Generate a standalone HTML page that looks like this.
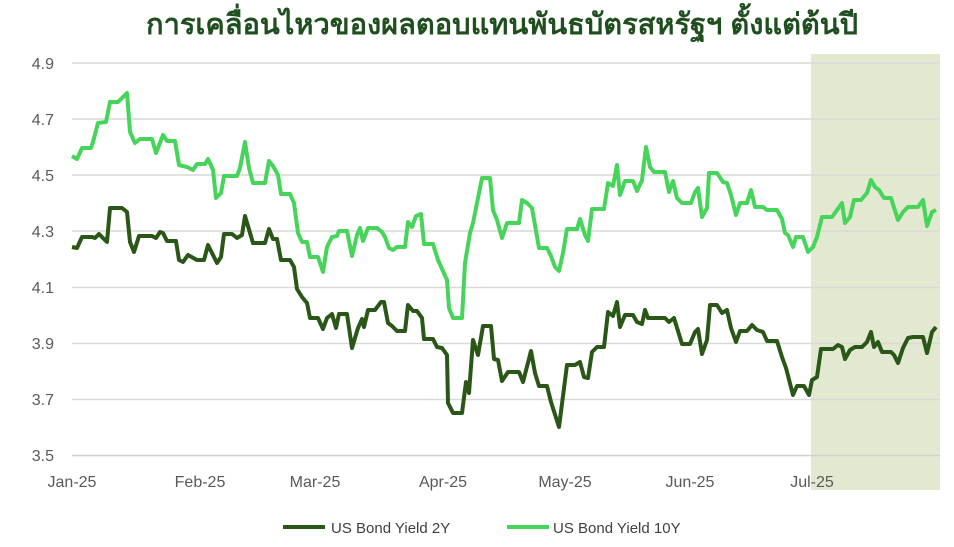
<!DOCTYPE html>
<html><head><meta charset="utf-8"><style>
body{margin:0;background:#fff;width:954px;height:542px;overflow:hidden;font-family:"Liberation Sans","Noto Sans CJK SC",sans-serif}
</style></head><body>
<svg width="954" height="542" xmlns="http://www.w3.org/2000/svg" font-family="Liberation Sans, Noto Sans CJK SC, sans-serif">
<text x="502" y="34" text-anchor="middle" font-size="29" font-weight="bold" fill="#1f4e1f" font-family="Liberation Sans, Noto Sans CJK SC, sans-serif">การเคลื่อนไหวของผลตอบแทนพันธบัตรสหรัฐฯ ตั้งแต่ต้นปี</text>
<rect x="811" y="54" width="129" height="436" fill="#e2e9d0"/>
<g stroke="#d9d9d9" stroke-width="1.5">
<line x1="72" x2="940" y1="63" y2="63"/><line x1="72" x2="940" y1="119" y2="119"/>
<line x1="72" x2="940" y1="175" y2="175"/><line x1="72" x2="940" y1="231" y2="231"/>
<line x1="72" x2="940" y1="287.5" y2="287.5"/><line x1="72" x2="940" y1="343.5" y2="343.5"/>
<line x1="72" x2="940" y1="399.5" y2="399.5"/>
</g>
<line x1="72" x2="940" y1="455.5" y2="455.5" stroke="#d0d0d0" stroke-width="1.5"/>
<g font-size="16" fill="#595959" text-anchor="end">
<text x="54" y="69">4.9</text><text x="54" y="125">4.7</text><text x="54" y="181">4.5</text>
<text x="54" y="237">4.3</text><text x="54" y="293">4.1</text><text x="54" y="349">3.9</text>
<text x="54" y="405">3.7</text><text x="54" y="461">3.5</text>
</g>
<g font-size="16" fill="#595959" text-anchor="middle">
<text x="72" y="487">Jan-25</text><text x="200" y="487">Feb-25</text><text x="315" y="487">Mar-25</text>
<text x="443" y="487">Apr-25</text><text x="565" y="487">May-25</text><text x="690" y="487">Jun-25</text>
<text x="812" y="487">Jul-25</text>
</g>
<polyline fill="none" stroke="#47d45a" stroke-width="4" stroke-linejoin="round" points="72,156 77,159 82,148 91,148 93,142 98,123 106,122 110,102 118,102 127,93 130,132 135,143 140,139 152,139 156,153 163,135 167,141 175,141 179,165 187,167 193,170 197,164 205,164 208,159 213,170 216,198 221,193 224,176 237,176 240,168 245,142 249,168 253,183 265,183 269,161 273,166 278,175 281,194 290,194 294,203 298,233 302,242 307,242 310,257 318,257 323,272 327,247 332,237 337,236 339,231 347,231 352,256 357,235 360,228 363,241 368,228 377,228 382,232 385,237 389,248 393,250 397,247 405,247 408,222 412,227 416,216 421,214 424,244 433,244 438,260 447,280 449,308 453,318 462,318 465,263 470,233 473,223 482,178 490,178 493,210 497,220 502,238 507,223 519,223 522,200 527,203 532,208 539,248 547,248 551,256 555,267 559,271 563,253 567,229 577,229 580,219 585,235 588,241 592,209 604,209 608,183 613,186 617,165 620,195 625,181 633,181 637,191 642,180 646,147 650,167 654,172 665,172 669,192 673,181 677,198 682,203 691,203 695,192 698,188 702,217 707,208 709,173 717,173 723,182 727,183 731,195 736,215 740,203 747,203 751,190 755,207 763,207 767,210 777,210 782,219 785,233 788,235 793,247 796,237 803,237 808,252 813,247 817,237 822,217 832,217 837,210 842,203 845,223 850,217 854,200 861,200 867,193 871,180 875,187 879,190 884,198 891,198 898,220 903,212 908,207 912,207 918,207 923,200 927,226 932,212 936,210"/>
<polyline fill="none" stroke="#2a5618" stroke-width="4" stroke-linejoin="round" points="72,247 77,248 82,237 92,237 95,238 99,234 107,242 110,208 122,208 127,212 130,242 134,252 139,236 152,236 156,238 160,232 163,233 167,241 176,241 179,260 183,262 188,255 197,260 204,260 208,245 217,263 221,257 224,234 232,234 237,238 242,235 245,216 253,243 265,243 269,229 273,239 277,239 281,260 290,260 294,267 297,289 302,297 307,303 310,318 318,318 323,329 327,318 332,314 336,328 339,314 347,314 352,348 358,328 362,319 364,327 368,310 375,310 381,302 384,302 388,323 392,326 397,331 405,331 408,305 413,311 417,311 422,318 424,339 433,339 437,347 442,348 447,355 448,403 453,413 462,413 466,382 469,393 473,340 478,355 483,326 491,326 494,359 498,360 502,381 508,372 519,372 523,382 531,351 535,373 539,386 547,386 551,402 559,427 567,365 575,365 580,362 584,377 588,378 592,352 597,347 604,347 608,312 613,316 617,302 620,327 625,315 633,315 637,322 642,324 645,310 648,318 665,318 669,322 674,318 682,344 690,344 695,332 698,329 702,354 707,340 710,305 717,305 722,313 727,310 731,328 736,342 740,331 747,331 752,325 757,330 763,332 767,341 777,341 782,357 786,368 793,395 797,386 804,386 809,395 812,380 817,377 821,349 833,349 838,345 842,347 845,359 850,350 855,347 862,347 867,342 871,332 874,347 878,342 882,352 891,352 894,355 898,363 903,348 908,338 913,337 923,337 927,353 932,332 936,327"/>
<line x1="283" x2="325" y1="527" y2="527" stroke="#2a5618" stroke-width="4"/>
<text x="331" y="533" font-size="15" fill="#404040">US Bond Yield 2Y</text>
<line x1="507" x2="549" y1="527" y2="527" stroke="#47d45a" stroke-width="4"/>
<text x="553" y="533" font-size="15" fill="#404040">US Bond Yield 10Y</text>
</svg>
</body></html>
